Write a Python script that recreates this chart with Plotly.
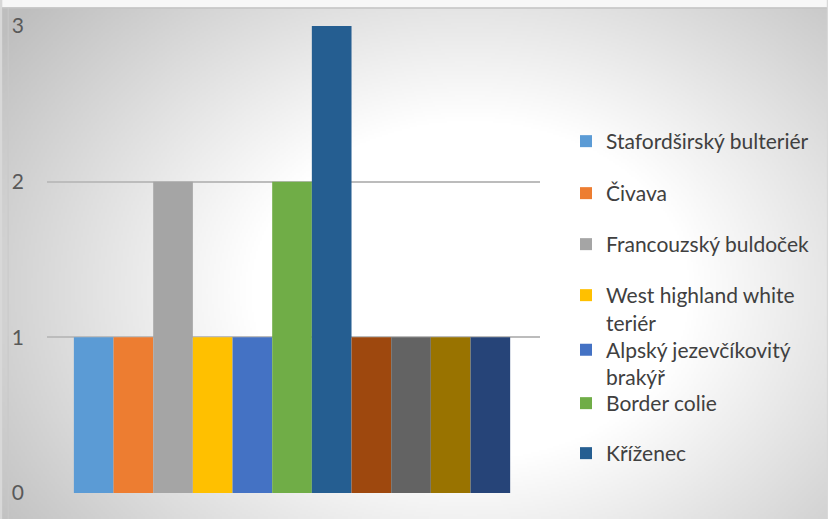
import base64
import struct
import zlib

import numpy as np
import plotly.graph_objects as go

# ---------------- data ----------------
breeds = [
    "Stafordširský bulteriér",
    "Čivava",
    "Francouzský buldoček",
    "West highland white teriér",
    "Alpský jezevčíkovitý brakýř",
    "Border colie",
    "Kříženec",
    "Plemeno 8",
    "Plemeno 9",
    "Plemeno 10",
    "Plemeno 11",
]
legend_labels = [
    "Stafordširský bulteriér",
    "Čivava",
    "Francouzský buldoček",
    "West highland white<br>teriér",
    "Alpský jezevčíkovitý<br>brakýř",
    "Border colie",
    "Kříženec",
]
counts = [1, 1, 2, 1, 1, 2, 3, 1, 1, 1, 1]
colors = [
    "#5B9BD5", "#ED7D31", "#A5A5A5", "#FFC000", "#4472C4", "#70AD47",
    "#255E91", "#9E480E", "#636363", "#997300", "#264478",
]
y_ticks = [0, 1, 2, 3]

W, H = 828, 519
PL, PR, PT, PB = 45, 288, 26, 26
FONT = "Lato, 'Open Sans', sans-serif"
pw = W - PL - PR
ph = H - PT - PB


def px_x(px):
    return (px - PL) / pw


def px_y(py):
    return 1 - (py - PT) / ph


# ---------------- background radial gradient (style only) ----------------
def gradient_png(w, h, scale=2):
    gw, gh = w // scale, h // scale
    xs = (np.arange(gw) + 0.5) * scale
    ys = (np.arange(gh) + 0.5) * scale
    X, Y = np.meshgrid(xs, ys)
    r = np.sqrt(((X - 470) / 1.3) ** 2 + (Y - 290) ** 2)
    v = 255 - 59 * np.clip((r - 170) / 250, 0, 1.1)
    pix = np.clip(v, 0, 255).astype(np.uint8)
    raw = b"".join(b"\x00" + pix[i].tobytes() for i in range(gh))

    def chunk(t, d):
        c = struct.pack(">I", len(d)) + t + d
        return c + struct.pack(">I", zlib.crc32(t + d) & 0xFFFFFFFF)

    png = (b"\x89PNG\r\n\x1a\n"
           + chunk(b"IHDR", struct.pack(">IIBBBBB", gw, gh, 8, 0, 0, 0, 0))
           + chunk(b"IDAT", zlib.compress(raw, 9))
           + chunk(b"IEND", b""))
    return "data:image/png;base64," + base64.b64encode(png).decode()


fig = go.Figure()

legend_centres = [143, 195, 246, 297, 351.5, 405, 455]  # centre of first line (px)
for i, (name, val, col) in enumerate(zip(breeds, counts, colors)):
    show = i < len(legend_labels)
    lg = "legend" if i == 0 else f"legend{i + 1}"
    fig.add_trace(go.Bar(
        x=[""], y=[val], name=legend_labels[i] if show else name,
        marker=dict(color=col, line=dict(width=0)),
        showlegend=show,
        legend=lg if show else "legend",
        hoverinfo="y+name",
    ))

layout_legends = {}
for i in range(len(legend_labels)):
    key = "legend" if i == 0 else f"legend{i + 1}"
    layout_legends[key] = dict(
        xref="container", yref="container",
        x=566 / W, y=1 - (legend_centres[i] - 22) / H,
        xanchor="left", yanchor="top",
        bgcolor="rgba(0,0,0,0)", borderwidth=0,
        font=dict(family=FONT, size=21, color="#404040"),
        valign="top",
    )

fig.update_layout(
    width=W, height=H,
    margin=dict(l=PL, r=PR, t=PT, b=PB),
    paper_bgcolor="#d8d8d8",
    plot_bgcolor="rgba(0,0,0,0)",
    barmode="group",
    bargap=0.115,
    bargroupgap=0,
    images=[dict(
        source=gradient_png(W, H),
        xref="paper", yref="paper",
        x=-PL / pw, y=1 + PT / ph,
        sizex=W / pw, sizey=H / ph,
        xanchor="left", yanchor="top",
        sizing="stretch", layer="below",
    )],
    shapes=[
        dict(type="rect", xref="paper", yref="paper", layer="below",
             x0=px_x(0), x1=px_x(W), y0=px_y(0), y1=px_y(7.5),
             fillcolor="#f7f7f7", line=dict(width=0)),
        dict(type="line", xref="paper", yref="paper", layer="below",
             x0=px_x(0), x1=px_x(W), y0=px_y(8), y1=px_y(8),
             line=dict(color="#c4c4c4", width=1.5)),
        dict(type="line", xref="paper", yref="paper", layer="below",
             x0=px_x(6), x1=px_x(6), y0=px_y(8), y1=px_y(H),
             line=dict(color="#c8c8c8", width=1)),
    ],
    xaxis=dict(showticklabels=False, showgrid=False, zeroline=False,
               showline=False, ticks="", range=[-0.497, 0.503]),
    yaxis=dict(range=[0, 3], tickvals=y_ticks, showgrid=True,
               gridcolor="#bcbcbc", gridwidth=1.5, zeroline=False,
               showline=False, ticks="", ticklabelstandoff=22,
               tickfont=dict(family=FONT, size=21, color="#595959")),
    **layout_legends,
)

fig.write_html("out.html",
               config={"displayModeBar": False},
               post_script="document.body.style.margin='0';"
                           "document.body.style.overflow='hidden';")
